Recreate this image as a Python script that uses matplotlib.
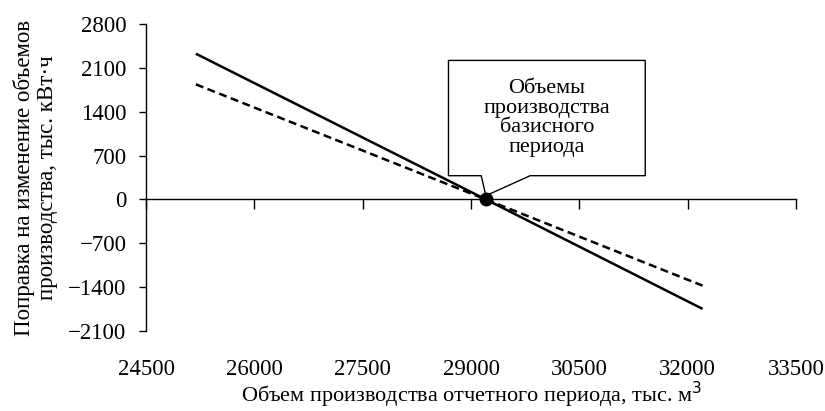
import numpy as np
import matplotlib
matplotlib.use('Agg')
from matplotlib import pyplot as plt
from matplotlib.patches import Polygon

# data
volume = [25190, 29205, 32205]
correction_solid = [2326, 0, -1747]
correction_dashed = [1837, 0, -1376]
base_volume = 29205
base_correction = 0

x_ticks = [24500, 26000, 27500, 29000, 30500, 32000, 33500]
y_ticks = [-2100, -1400, -700, 0, 700, 1400, 2100, 2800]

plt.rcParams['font.family'] = ['Liberation Serif', 'DejaVu Serif']
plt.rcParams['font.size'] = 16.5

fig = plt.figure(figsize=(8.25, 4.11), dpi=100)
ax = fig.add_axes([0.177, 0.1946, 0.788, 0.747])

ax.plot(volume, correction_solid, color='black', lw=1.8, solid_capstyle='butt')
ax.plot(volume, correction_dashed, color='black', lw=1.8, dashes=(3.2, 1.8))
ax.plot([base_volume], [base_correction], 'o', color='black', markersize=9, zorder=5)

ax.set_xlim(24500, 33500)
ax.set_ylim(-2100, 2800)
ax.set_xticks(x_ticks)
ax.set_yticks(y_ticks)
ax.set_yticklabels([str(t).replace('-', '\u2212') for t in y_ticks])

for s in ['top', 'right', 'bottom']:
    ax.spines[s].set_visible(False)
ax.spines['left'].set_linewidth(1.0)
ax.tick_params(axis='y', direction='out', length=5, width=1.0, pad=9)
ax.tick_params(axis='x', length=0, pad=20)

# horizontal axis crosses at zero, with its tick marks there
zero_pos = (0 - (-2100)) / (2800 - (-2100))
sec = ax.secondary_xaxis(zero_pos)
sec.set_xticks(x_ticks)
sec.tick_params(axis='x', direction='out', length=7, width=1.0, labelbottom=False, labeltop=False)
sec.spines['bottom'].set_linewidth(1.0)

ax.set_xlabel('Объем производства отчетного периода, тыс. м$^3$', labelpad=0, fontsize=16)
ax.set_ylabel('Поправка на изменение объемов\nпроизводства, тыс. кВт·ч', labelpad=7, linespacing=1.15)

# callout box
bx0, bx1 = 28687, 31411
by0, by1 = 379, 2219
px0, px1 = 29140, 29818
callout = Polygon([(bx0, by1), (bx1, by1), (bx1, by0), (px1, by0), (base_volume, 60),
                   (px0, by0), (bx0, by0)], closed=True, facecolor='white',
                  edgecolor='black', lw=1.0, zorder=4)
ax.add_patch(callout)
ax.text((bx0 + bx1) / 2, (by0 + by1) / 2, 'Объемы\nпроизводства\nбазисного\nпериода',
        ha='center', va='center', fontsize=16, linespacing=1.05, zorder=6)

fig.savefig('out.png', dpi=100)
